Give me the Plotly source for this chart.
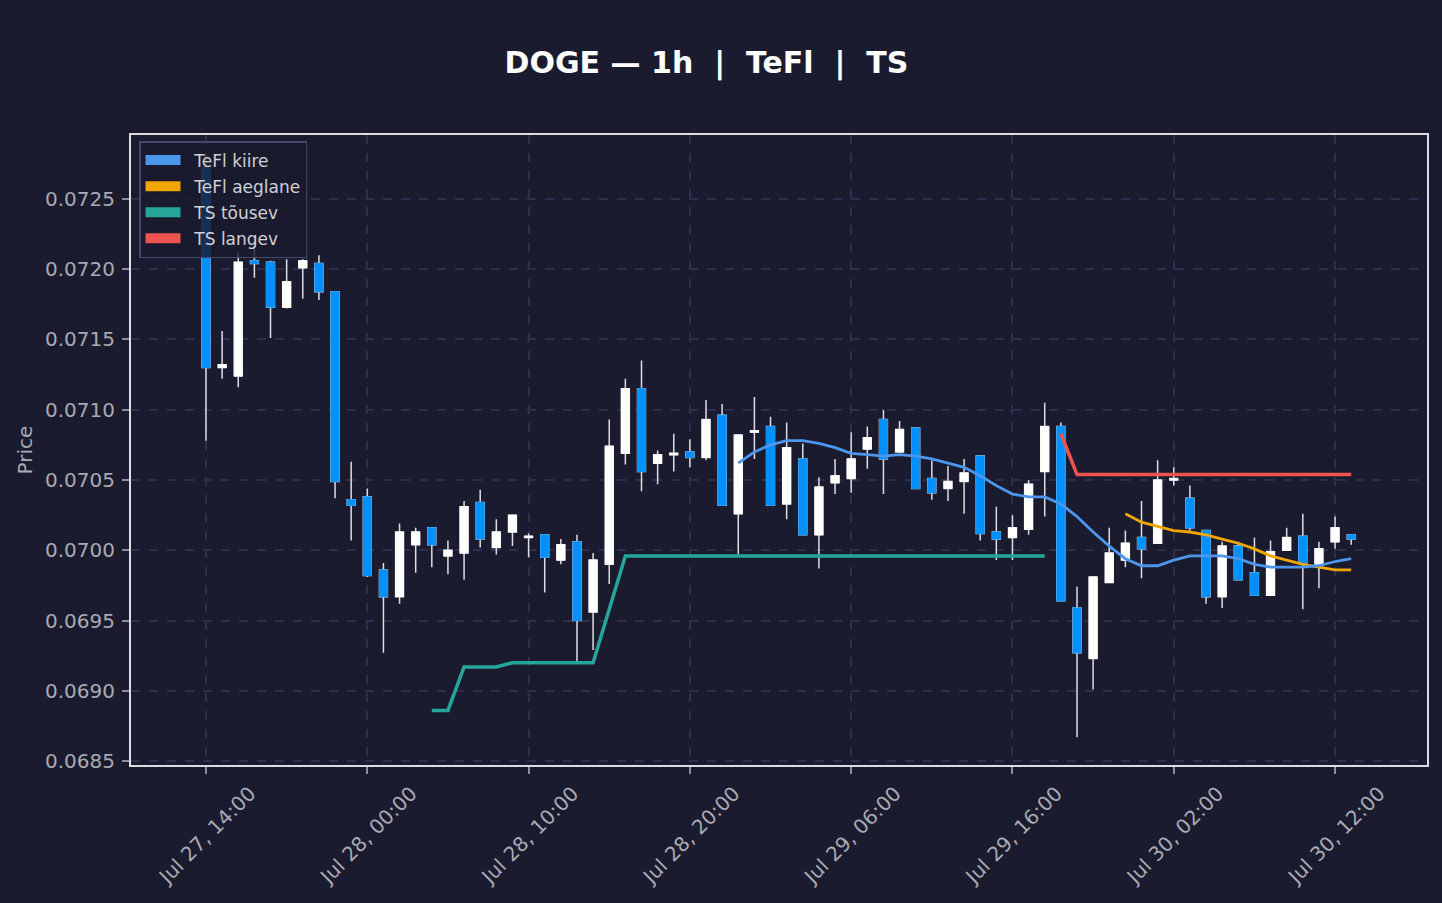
import pandas as pd
import plotly.graph_objects as go

# ---------------- data ----------------
start_time = "2025-07-27 14:00"
n_candles = 72
times = pd.date_range(start_time, periods=n_candles, freq="h")

opens = [0.07272, 0.07130, 0.07124, 0.07206, 0.07205, 0.07173, 0.07201, 0.07204, 0.07184, 0.07036,
         0.07038, 0.06986, 0.06967, 0.07004, 0.07016, 0.06996, 0.06998, 0.07034, 0.07002, 0.07013,
         0.07009, 0.07011, 0.06993, 0.07006, 0.06956, 0.06990, 0.07069, 0.07115, 0.07062, 0.07068,
         0.07070, 0.07066, 0.07096, 0.07026, 0.07084, 0.07088, 0.07033, 0.07065, 0.07011, 0.07048,
         0.07051, 0.07072, 0.07093, 0.07070, 0.07087, 0.07051, 0.07044, 0.07049, 0.07067, 0.07013,
         0.07009, 0.07015, 0.07056, 0.07088, 0.06959, 0.06923, 0.06977, 0.06993, 0.07009, 0.07005,
         0.07050, 0.07037, 0.07014, 0.06967, 0.07003, 0.06984, 0.06968, 0.07000, 0.07010, 0.06990,
         0.07006, 0.07011]
highs = [0.07282, 0.07156, 0.07212, 0.07224, 0.07206, 0.07207, 0.07207, 0.07210, 0.07184, 0.07063,
         0.07044, 0.06991, 0.07019, 0.07016, 0.07016, 0.07007, 0.07035, 0.07043, 0.07022, 0.07025,
         0.07012, 0.07011, 0.07008, 0.07011, 0.06998, 0.07093, 0.07122, 0.07135, 0.07071, 0.07083,
         0.07079, 0.07107, 0.07104, 0.07082, 0.07109, 0.07095, 0.07091, 0.07076, 0.07052, 0.07065,
         0.07084, 0.07088, 0.07100, 0.07092, 0.07087, 0.07064, 0.07060, 0.07065, 0.07067, 0.07031,
         0.07025, 0.07050, 0.07105, 0.07091, 0.06974, 0.06981, 0.07016, 0.07014, 0.07035, 0.07064,
         0.07059, 0.07046, 0.07014, 0.07006, 0.07006, 0.07009, 0.07007, 0.07016, 0.07026, 0.07006,
         0.07024, 0.07011]
lows = [0.07078, 0.07122, 0.07116, 0.07194, 0.07151, 0.07172, 0.07179, 0.07178, 0.07037, 0.07007,
        0.06981, 0.06927, 0.06962, 0.06984, 0.06988, 0.06983, 0.06979, 0.07002, 0.06997, 0.07003,
        0.06995, 0.06970, 0.06990, 0.06921, 0.06929, 0.06976, 0.07061, 0.07042, 0.07047, 0.07056,
        0.07059, 0.07064, 0.07032, 0.06997, 0.07065, 0.07032, 0.07022, 0.07011, 0.06987, 0.07040,
        0.07041, 0.07058, 0.07040, 0.07070, 0.07044, 0.07036, 0.07035, 0.07026, 0.07007, 0.06993,
        0.06993, 0.07011, 0.07024, 0.06964, 0.06867, 0.06901, 0.06977, 0.06988, 0.06980, 0.07005,
        0.07046, 0.07014, 0.06962, 0.06959, 0.06979, 0.06968, 0.06968, 0.07000, 0.06958, 0.06973,
        0.07001, 0.07004]
closes = [0.07130, 0.07132, 0.07205, 0.07204, 0.07173, 0.07191, 0.07206, 0.07184, 0.07049, 0.07032,
          0.06982, 0.06967, 0.07013, 0.07013, 0.07004, 0.07000, 0.07031, 0.07008, 0.07013, 0.07025,
          0.07010, 0.06995, 0.07004, 0.06950, 0.06993, 0.07074, 0.07115, 0.07056, 0.07068, 0.07069,
          0.07066, 0.07093, 0.07032, 0.07082, 0.07085, 0.07032, 0.07073, 0.07011, 0.07045, 0.07053,
          0.07065, 0.07080, 0.07065, 0.07086, 0.07044, 0.07041, 0.07049, 0.07055, 0.07012, 0.07008,
          0.07016, 0.07047, 0.07088, 0.06964, 0.06927, 0.06981, 0.06998, 0.07005, 0.07001, 0.07050,
          0.07051, 0.07016, 0.06967, 0.07003, 0.06979, 0.06968, 0.06999, 0.07009, 0.06991, 0.07001,
          0.07016, 0.07008]

# TeFl fast line (starts at candle index 33)
tefl_fast_start = 33
tefl_fast = [0.07062, 0.07070, 0.07075, 0.07078, 0.07078, 0.07076, 0.07073, 0.07069, 0.07068, 0.07067,
             0.07068, 0.07067, 0.07065, 0.07062, 0.07059, 0.07053, 0.07046, 0.07040, 0.07038, 0.07038,
             0.07033, 0.07024, 0.07013, 0.07003, 0.06994, 0.06989, 0.06989, 0.06993, 0.06996, 0.06996,
             0.06996, 0.06994, 0.06990, 0.06988, 0.06988, 0.06988, 0.06989, 0.06992, 0.06994]

# TeFl slow line (starts at candle index 57)
tefl_slow_start = 57
tefl_slow = [0.07026, 0.07020, 0.07017, 0.07014, 0.07013, 0.07011, 0.07008, 0.07005, 0.07001, 0.06996,
             0.06993, 0.06990, 0.06988, 0.06986, 0.06986]

# TS rising (starts at index 14)
ts_up_start = 14
ts_up = [0.06886, 0.06886, 0.06917, 0.06917, 0.06917, 0.06920, 0.06920, 0.06920, 0.06920, 0.06920,
         0.06920, 0.06958, 0.06996, 0.06996, 0.06996, 0.06996, 0.06996, 0.06996, 0.06996, 0.06996,
         0.06996, 0.06996, 0.06996, 0.06996, 0.06996, 0.06996, 0.06996, 0.06996, 0.06996, 0.06996,
         0.06996, 0.06996, 0.06996, 0.06996, 0.06996, 0.06996, 0.06996, 0.06996, 0.06996]

# TS falling (starts at index 53)
ts_down_start = 53
ts_down = [0.07083, 0.07054, 0.07054, 0.07054, 0.07054, 0.07054, 0.07054, 0.07054, 0.07054, 0.07054,
           0.07054, 0.07054, 0.07054, 0.07054, 0.07054, 0.07054, 0.07054, 0.07054, 0.07054]

y_ticks = [0.0685, 0.0690, 0.0695, 0.0700, 0.0705, 0.0710, 0.0715, 0.0720, 0.0725]

legend_names = ["TeFl kiire", "TeFl aeglane", "TS tõusev", "TS langev"]

# ---------------- style ----------------
BG = "#1a1b2e"
GRID = "#2d2f4d"
TXT = "#a9aab3"
C_UP = "#ffffff"
C_DN = "#0091ff"
C_WICK = "#dedee4"
C_FAST = "#4d96ee"
C_SLOW = "#f0a500"
C_TSUP = "#26a69a"
C_TSDN = "#ef5350"
FONT = "DejaVu Sans"

fig = go.Figure()

# wicks (light grey for every candle)
fig.add_trace(go.Candlestick(
    x=times, open=opens, high=highs, low=lows, close=closes,
    increasing=dict(line=dict(color=C_WICK, width=1.5), fillcolor=C_UP),
    decreasing=dict(line=dict(color=C_WICK, width=1.5), fillcolor=C_DN),
    whiskerwidth=0, showlegend=False, hoverinfo="skip"))

# bodies drawn on top, coloured by direction
body_top = [max(o, c) for o, c in zip(opens, closes)]
body_bot = [min(o, c) for o, c in zip(opens, closes)]
fig.add_trace(go.Candlestick(
    x=times, open=opens, high=body_top, low=body_bot, close=closes,
    increasing=dict(line=dict(color=C_UP, width=1), fillcolor=C_UP),
    decreasing=dict(line=dict(color=C_DN, width=1), fillcolor=C_DN),
    whiskerwidth=0, showlegend=False, hoverinfo="skip"))

def seg(start, vals):
    return times[start:start + len(vals)]

fig.add_trace(go.Scatter(x=seg(ts_up_start, ts_up), y=ts_up, mode="lines",
                         line=dict(color=C_TSUP, width=3.5), showlegend=False))
fig.add_trace(go.Scatter(x=seg(ts_down_start, ts_down), y=ts_down, mode="lines",
                         line=dict(color=C_TSDN, width=3.5), showlegend=False))
fig.add_trace(go.Scatter(x=seg(tefl_slow_start, tefl_slow), y=tefl_slow, mode="lines",
                         line=dict(color=C_SLOW, width=2.8), showlegend=False))
fig.add_trace(go.Scatter(x=seg(tefl_fast_start, tefl_fast), y=tefl_fast, mode="lines",
                         line=dict(color=C_FAST, width=2.8), showlegend=False))

# legend swatches
for k, (name, col) in enumerate(zip(legend_names, [C_FAST, C_SLOW, C_TSUP, C_TSDN])):
    fig.add_trace(go.Scatter(x=[None], y=[None], mode="lines",
                             name="\u00a0\u2009" + name, legendgroup=f"g{k}",
                             line=dict(color=col, width=14), showlegend=True))

axis_common = dict(
    showline=True, mirror=True, linecolor="#dcdce4", linewidth=2,
    showgrid=True, gridcolor=GRID, griddash="dash", gridwidth=1.5,
    ticks="outside", ticklen=7, tickcolor="#8e8f9c", tickwidth=1.5,
    tickfont=dict(family=FONT, size=20, color=TXT), zeroline=False,
)

fig.update_layout(
    width=1442, height=903,
    paper_bgcolor=BG, plot_bgcolor=BG,
    margin=dict(l=131, r=15, t=135, b=138),
    font=dict(family=FONT, color=TXT),
    title=dict(text="<b>DOGE — 1h\u00a0\u00a0|\u00a0\u00a0TeFl\u00a0\u00a0|\u00a0\u00a0TS</b>",
               x=706.5 / 1442, xanchor="center", y=1 - 62 / 903, yanchor="middle",
               yref="container", xref="container",
               font=dict(family=FONT, size=30, color="#ffffff")),
    xaxis=dict(**axis_common, type="date",
               range=["2025-07-27 09:21", "2025-07-30 17:42"],
               tick0="2025-07-27 14:00", dtick=10 * 3600 * 1000,
               tickformat="%b %d, %H:%M", tickangle=-45, ticklabelshift=44,
               rangeslider=dict(visible=False)),
    yaxis=dict(**axis_common, range=[0.068472, 0.072955],
               tickvals=y_ticks, tickformat=".4f", ticklabelstandoff=3,
               title=dict(text="Price", font=dict(family=FONT, size=20, color=TXT), standoff=7)),
    legend=dict(x=8 / 1296, y=1 - 6 / 630, xanchor="left", yanchor="top",
                bgcolor="rgba(26,27,46,0.82)", bordercolor="#46486a", borderwidth=1.5,
                font=dict(family=FONT, size=17, color="#d0d0d6"), itemwidth=35,
                traceorder="grouped", tracegroupgap=1),
    showlegend=True,
)

fig.write_html("out.html")
